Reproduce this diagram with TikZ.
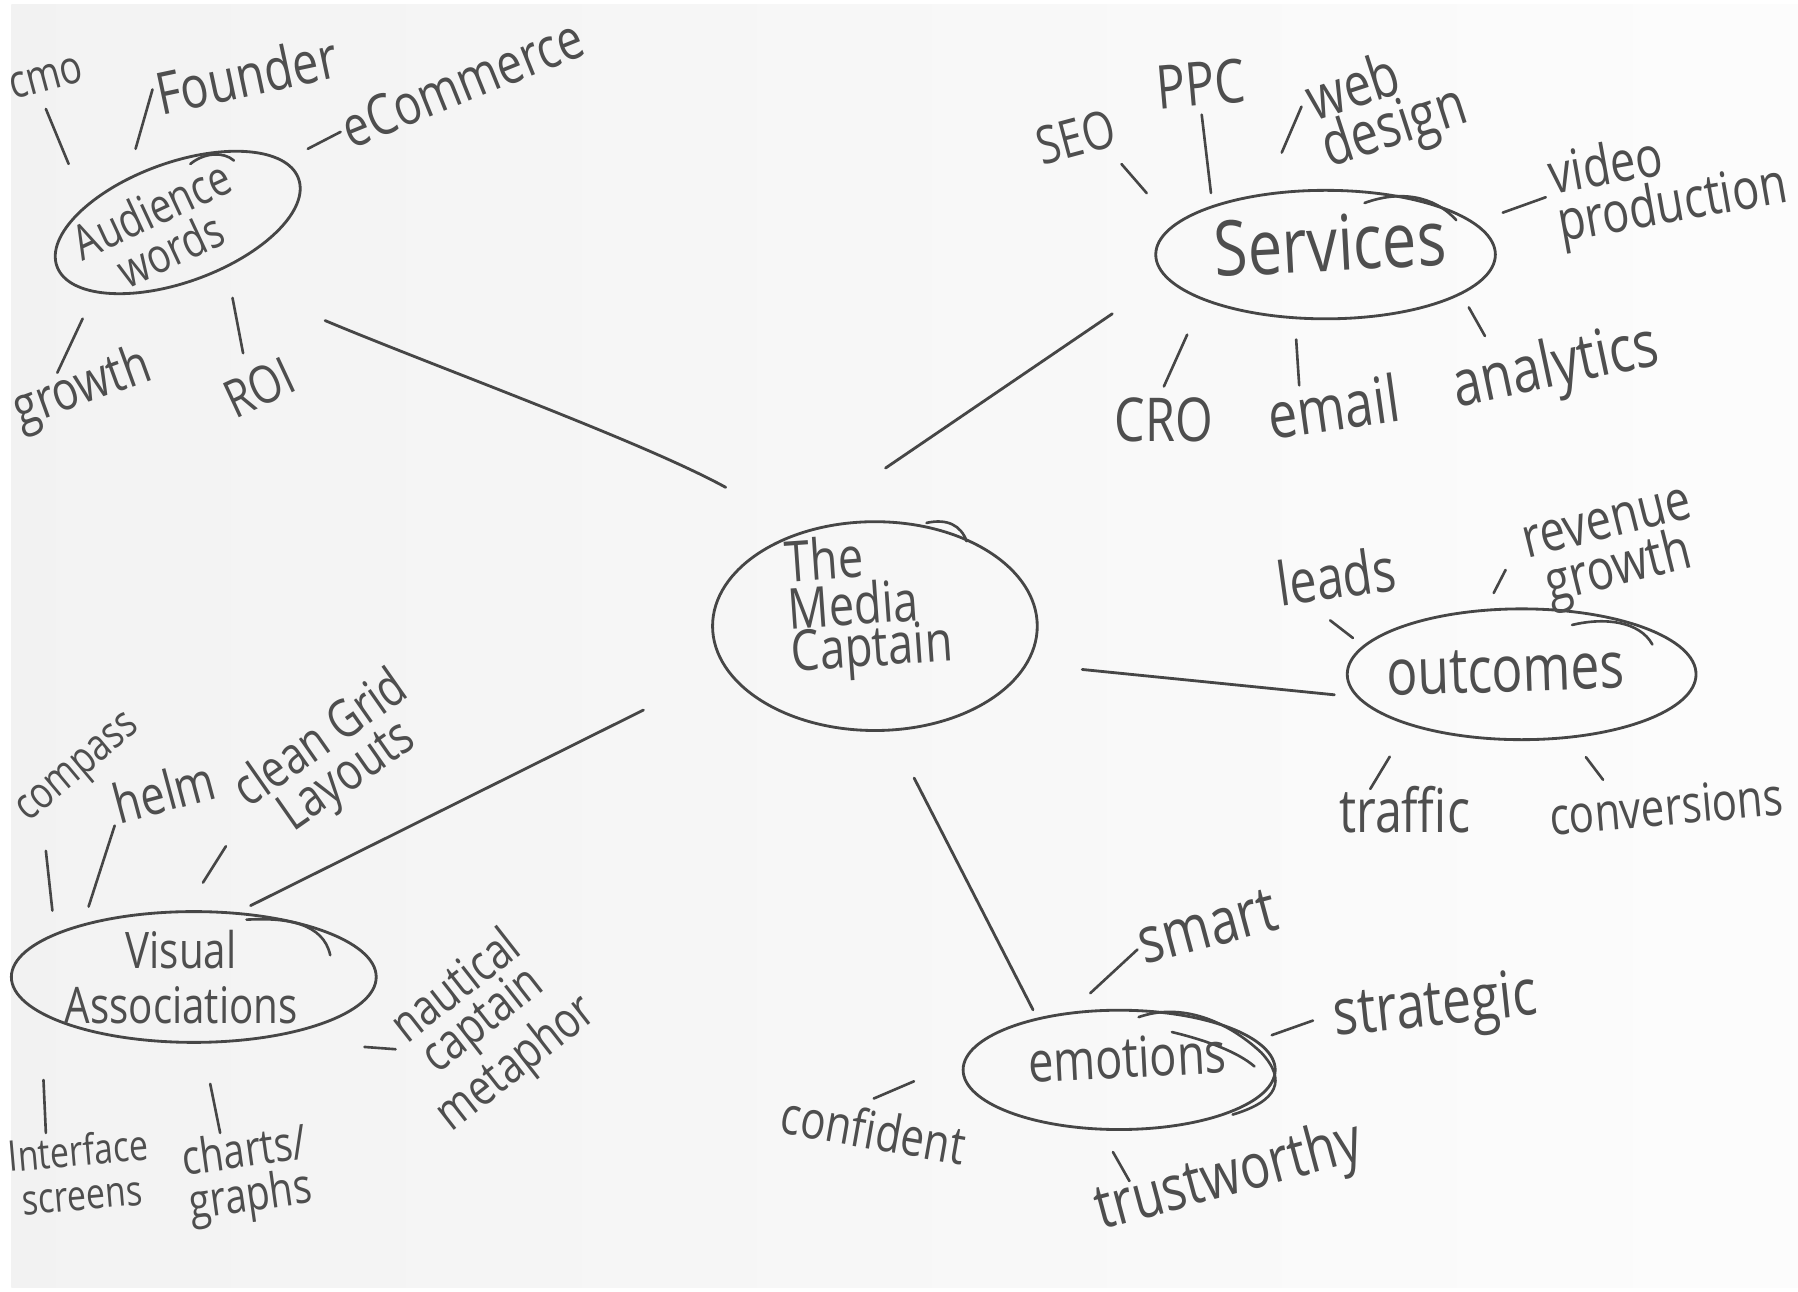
\documentclass[tikz,border=0pt]{standalone}
\usepackage{fontspec}
\setmainfont{Open Sans}
\usetikzlibrary{shapes.geometric}
\definecolor{ink}{RGB}{70,70,70}
\definecolor{textink}{RGB}{78,78,78}
\tikzset{
    hub/.style = {ellipse, draw=ink, line width=0.7pt, inner sep=0pt, outer sep=0pt},
    hubtext/.style = {text=textink, align=center, inner sep=1pt, xscale=0.8},
    word/.style = {text=textink, align=center, inner sep=1pt, xscale=0.8},
    fs/.style 2 args = {font=\fontsize{#1}{#2}\selectfont},
    twig/.style = {draw=ink, line width=0.65pt, line cap=round},
    branch/.style = {draw=ink, line width=0.7pt, line cap=round}
}

\begin{document}
\begin{tikzpicture}[x=0.01cm, y=-0.01cm]
%
\useasboundingbox (0,0) rectangle (1568,1126);
\fill[white] (0,0) rectangle (1568,1126);
\shade[left color=black!5, right color=black!1] (10,4) rectangle (1568,1123);
%
\node[hub, rotate=20, minimum width=2.24cm, minimum height=1.04cm] (aud) at (155,194) {};
\node[hub, minimum width=2.96cm, minimum height=1.12cm] (svc) at (1156,222) {};
\node[hub, minimum width=2.83cm, minimum height=1.82cm] (mc) at (763,546) {};
\node[hub, minimum width=3.04cm, minimum height=1.14cm] (out) at (1327,588) {};
\node[hub, minimum width=2.72cm, minimum height=1.04cm] (emo) at (976,933) {};
\node[hub, minimum width=3.18cm, minimum height=1.14cm] (vis) at (169,852) {};
%
% pen overlaps on the hubs
\draw[twig] (166,143) .. controls (178,133) and (195,132) .. (204,140);
\draw[twig] (1190,177) .. controls (1220,166) and (1250,170) .. (1270,192);
\draw[twig] (808,456) .. controls (826,452) and (838,458) .. (843,472);
\draw[twig] (1371,545) .. controls (1400,538) and (1430,542) .. (1441,562);
\draw[twig] (215,802) .. controls (250,800) and (282,805) .. (288,833);
\draw[twig] (993,887) .. controls (1030,874) and (1070,890) .. (1100,918)
    .. controls (1122,942) and (1115,960) .. (1075,972);
\draw[twig] (1022,900) .. controls (1055,908) and (1080,918) .. (1094,930);
%
\node[rotate=25, hubtext, fs={12}{11}] (aud-t) at (140,200) {Audience\\words};
\node[rotate=3, hubtext, fs={19}{18}] (svc-t) at (1160,212) {Services};
\node[rotate=4, hubtext, fs={14}{10.5}, align=left] (mc-t) at (758,529) {The\\Media\\Captain};
\node[rotate=2, hubtext, fs={16}{16}] (out-t) at (1313,585) {outcomes};
\node[rotate=3, hubtext, fs={14}{14}] (emo-t) at (983,922) {emotions};
\node[hubtext, fs={12.5}{13.5}] (vis-t) at (158,852) {Visual\\Associations};
%
\draw[branch, shorten <=1.07cm, shorten >=0.80cm] (aud.-76) .. controls (380,320) and (560,385) .. (mc.126);
\draw[branch, shorten <=1.20cm, shorten >=0.57cm] (mc.142) -- (svc.188);
\draw[branch, shorten <=0.49cm, shorten >=0.21cm] (mc.-14) -- (out.188);
\draw[branch, shorten <=0.47cm, shorten >=0.09cm] (mc.-82) -- (emo.148);
\draw[branch, shorten <=0.81cm, shorten >=0.15cm] (mc.196) -- (vis.57);
%
% audience words
\node[rotate=15, word, fs={11.5}{11}] (cmo) at (40,68) {cmo};
\node[rotate=12, word, fs={14.5}{13}] (founder) at (215,65) {Founder};
\node[rotate=22, word, fs={14}{13}] (ecom) at (403,72) {eCommerce};
\node[rotate=20, word, fs={13.5}{13}] (growth) at (72,340) {growth};
\node[rotate=25, word, fs={13}{12}] (roi) at (226,338) {ROI};
\coordinate (t-cmo) at (40,95);
\coordinate (t-founder) at (133,78);
\coordinate (t-ecom) at (297,115);
\coordinate (t-growth) at (50,325);
\coordinate (t-roi) at (212,308);
\draw[twig, shorten <=0.40cm] (aud.150) -- (t-cmo);
\draw[twig, shorten <=0.28cm] (aud.120) -- (t-founder);
\draw[twig, shorten <=0.24cm] (aud.10) -- (t-ecom);
\draw[twig, shorten <=0.26cm] (aud.-160) -- (t-growth);
\draw[twig, shorten <=0.28cm] (aud.-62) -- (t-roi);
%
% services
\node[rotate=15, word, fs={13}{12}] (seo) at (938,120) {SEO};
\node[rotate=5, word, fs={15}{13}] (ppc) at (1047,73) {PPC};
\node[rotate=18, word, fs={15}{12}, align=left] (web) at (1210,93) {web\\design};
\node[rotate=10, word, fs={14}{12}, align=left] (video) at (1455,160) {video\\production};
\node[word, fs={15}{13}] (cro) at (1015,366) {CRO};
\node[rotate=8, word, fs={16}{14}] (email) at (1163,354) {email};
\node[rotate=12, word, fs={16}{14}] (analytics) at (1357,322) {analytics};
\coordinate (t-seo) at (978,143);
\coordinate (t-ppc) at (1048,100);
\coordinate (t-web) at (1135,93);
\coordinate (t-video) at (1348,172);
\coordinate (t-cro) at (1015,337);
\coordinate (t-email) at (1133,336);
\coordinate (t-analytics) at (1295,293);
\draw[twig, shorten <=0.37cm] (svc.169) -- (t-seo);
\draw[twig, shorten <=0.12cm] (svc.157) -- (t-ppc);
\draw[twig, shorten <=0.40cm] (svc.136) -- (t-web);
\draw[twig, shorten <=0.27cm] (svc.12) -- (t-video);
\draw[twig, shorten <=0.34cm] (svc.-160) -- (t-cro);
\draw[twig, shorten <=0.19cm] (svc.-116) -- (t-email);
\draw[twig, shorten <=0.14cm] (svc.-16) -- (t-analytics);
%
% outcomes
\node[rotate=8, word, fs={15}{13}] (leads) at (1165,502) {leads};
\node[rotate=14, word, fs={14}{12}] (revenue) at (1408,482) {revenue\\growth};
\node[word, fs={15}{13}] (traffic) at (1225,706) {traffic};
\node[rotate=5, word, fs={13}{12}] (conv) at (1453,703) {conversions};
\coordinate (t-leads) at (1160,541);
\coordinate (t-revenue) at (1313,497);
\coordinate (t-traffic) at (1195,688);
\coordinate (t-conv) at (1398,680);
\draw[twig, shorten <=0.12cm] (out.170) -- (t-leads);
\draw[twig, shorten <=0.17cm] (out.120) -- (t-revenue);
\draw[twig, shorten <=0.33cm] (out.-156) -- (t-traffic);
\draw[twig, shorten <=0.22cm] (out.-52) -- (t-conv);
%
% visual associations
\node[rotate=40, word, fs={11}{11}] (compass) at (70,672) {compass};
\node[rotate=15, word, fs={13.5}{12}] (helm) at (143,690) {helm};
\node[rotate=35, word, fs={13}{11}] (grid) at (292,662) {clean Grid\\Layouts};
\node[rotate=38, word, fs={12.5}{10.5}] (nautical) at (425,895) {nautical\\captain\\metaphor};
\node[rotate=5, word, fs={10.5}{11}] (iface) at (70,1022) {Interface\\screens};
\node[rotate=8, word, fs={12}{11}] (charts) at (216,1026) {charts/\\graphs};
\coordinate (t-compass) at (40,742);
\coordinate (t-helm) at (100,720);
\coordinate (t-grid) at (197,738);
\coordinate (t-nautical) at (345,915);
\coordinate (t-iface) at (40,988);
\coordinate (t-charts) at (192,988);
\draw[twig, shorten <=0.21cm] (vis.163) -- (t-compass);
\draw[twig, shorten <=0.17cm] (vis.155) -- (t-helm);
\draw[twig, shorten <=0.30cm] (vis.98) -- (t-grid);
\draw[twig, shorten <=0.97cm] (vis.-46) -- (t-nautical);
\draw[twig, shorten <=0.59cm] (vis.-167) -- (t-iface);
\draw[twig, shorten <=0.37cm] (vis.-83) -- (t-charts);
%
% emotions
\node[rotate=15, word, fs={16}{14}] (smart) at (1053,808) {smart};
\node[rotate=6, word, fs={16}{14}] (strategic) at (1252,880) {strategic};
\node[rotate=-10, word, fs={13}{12}] (confident) at (762,985) {confident};
\node[rotate=15, word, fs={15.5}{14}] (trust) at (1072,1028) {trustworthy};
\coordinate (t-smart) at (992,828);
\coordinate (t-strategic) at (1145,890);
\coordinate (t-confident) at (762,958);
\coordinate (t-trust) at (985,1030);
\draw[twig, shorten <=0.26cm] (emo.132) -- (t-smart);
\draw[twig, shorten <=0.15cm] (emo.12) -- (t-strategic);
\draw[twig, shorten <=0.49cm] (emo.176) -- (t-confident);
\draw[twig, shorten <=0.23cm] (emo.-108) -- (t-trust);

\end{tikzpicture}
\end{document}
